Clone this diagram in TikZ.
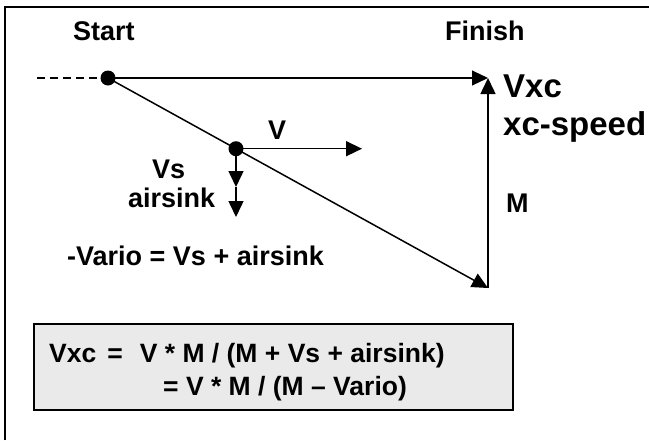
\documentclass[tikz,border=0pt]{standalone}
\usepackage{fontspec}
\setmainfont{Liberation Sans}
\usetikzlibrary{arrows.meta}
\begin{document}
\begin{tikzpicture}[x=1pt,y=-1pt,
  lbl/.style={font=\fontsize{27}{32}\selectfont\bfseries, inner sep=0pt, anchor=base west},
  big/.style={font=\fontsize{33}{38}\selectfont\bfseries, inner sep=0pt, anchor=base west},
  frm/.style={font=\fontsize{26.5}{32}\selectfont\bfseries, inner sep=0pt, anchor=base west},
  vec/.style={line width=1.5pt, -{Triangle[length=16pt,width=15pt]}},
  dotnode/.style={circle, fill=black, inner sep=0pt, minimum size=15pt},
  framel/.style={line width=2pt},
  boxstyle/.style={draw=black, line width=2pt, fill={rgb,255:red,234;green,234;blue,234}}]
\useasboundingbox (0,0) rectangle (649,440);
\fill[white] (0,0) rectangle (649,440);
% outer frame (only left and top edges are inside the picture)
\draw[framel] (5,440) -- (5,7) -- (649,7);

% key points
\coordinate (S) at (108,78);
\coordinate (P) at (236,148.7);
\coordinate (dl) at (37,78);
\coordinate (c) at (488,78);
\coordinate (e) at (488,288);
\coordinate (v) at (362,148.7);
\coordinate (d1) at (236,187);
\coordinate (d2) at (236,217);

% connectors
\draw[line width=1.3pt, dash pattern=on 8pt off 5pt] (dl) -- (S);
\draw[vec, line width=1.1pt] (S) -- (c);
\draw[line width=1.7pt, dash pattern=on 8pt off 5pt, shorten >=16pt] (S) -- (c);
\draw[vec] (S) -- (e);
\draw[vec] (e) -- (c);
\draw[vec] (P) -- (v);
\draw[vec] (P) -- (d1);
\draw[vec] (d1) -- (d2);

% dots
\node[dotnode] (start) at (S) {};
\node[dotnode] (mid) at (P) {};

% labels
\node[lbl] (tstart) at (73,40) {Start};
\node[lbl] (tfinish) at (445,40) {Finish};
\node[big] (tvxc) at (503,97) {Vxc};
\node[big] (tspeed) at (503,135) {xc-speed};
\node[lbl] (tm) at (506,212) {M};
\node[lbl] (tv) at (268,139) {V};
\node[lbl] (tvs) at (152,178) {Vs};
\node[lbl] (tsink) at (128,207) {airsink};
\node[lbl] (tvario) at (67,265) {-Vario = Vs + airsink};

% formula box
\draw[boxstyle] (34,324) rectangle (513,410);
\node[frm] (f1) at (49,362) {Vxc\hspace{11pt}=\hspace{17pt}V * M / (M + Vs + airsink)};
\node[frm] (f2) at (163,395) {= V * M / (M – Vario)};
\end{tikzpicture}
\end{document}
